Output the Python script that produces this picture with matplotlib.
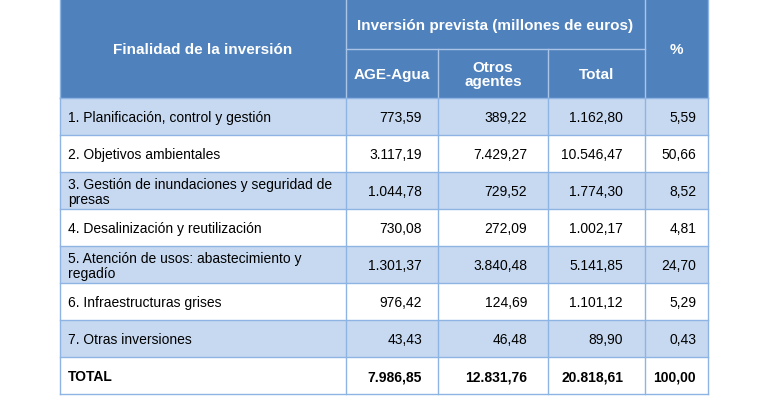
import matplotlib.pyplot as plt
from matplotlib.patches import Rectangle

plt.rcParams['font.family'] = ['Liberation Sans', 'DejaVu Sans']

# data
finalidad = [
    "1. Planificación, control y gestión",
    "2. Objetivos ambientales",
    "3. Gestión de inundaciones y seguridad de\npresas",
    "4. Desalinización y reutilización",
    "5. Atención de usos: abastecimiento y\nregadío",
    "6. Infraestructuras grises",
    "7. Otras inversiones",
]
age_agua = ["773,59", "3.117,19", "1.044,78", "730,08", "1.301,37", "976,42", "43,43"]
otros = ["389,22", "7.429,27", "729,52", "272,09", "3.840,48", "124,69", "46,48"]
total = ["1.162,80", "10.546,47", "1.774,30", "1.002,17", "5.141,85", "1.101,12", "89,90"]
pct = ["5,59", "50,66", "8,52", "4,81", "24,70", "5,29", "0,43"]
total_row = ["TOTAL", "7.986,85", "12.831,76", "20.818,61", "100,00"]

header_main = "Finalidad de la inversión"
header_group = "Inversión prevista (millones de euros)"
header_sub = ["AGE-Agua", "Otros\nagentes", "Total"]
header_pct = "%"

# layout (pixels)
W, H = 770, 400
col_x = [60, 346, 438, 548, 645, 708]
right_pad = [16, 21, 22, 12]
head_top, head_mid, head_bot = 0, 49, 98
row_h = 37
dy = 1.5  # small nudge so text sits like in the source

HEAD_BLUE = "#4F81BD"
LIGHT = "#C6D9F1"
LINE = "#8EB4E3"

fig = plt.figure(figsize=(W / 100, H / 100), dpi=100)
ax = fig.add_axes([0, 0, 1, 1])
ax.set_xlim(0, W)
ax.set_ylim(H, 0)
ax.axis('off')

fs = 10
fs_head = 11

# header background
ax.add_patch(Rectangle((col_x[0], head_top), col_x[-1] - col_x[0], head_bot - head_top,
                       facecolor=HEAD_BLUE, edgecolor='none'))
ax.text((col_x[0] + col_x[1]) / 2, (head_top + head_bot) / 2 + dy, header_main,
        color='white', fontsize=fs_head, fontweight='bold', ha='center', va='center')
ax.text((col_x[1] + col_x[4]) / 2, (head_top + head_mid) / 2 + dy, header_group,
        color='white', fontsize=fs_head, fontweight='bold', ha='center', va='center')
for i, lab in enumerate(header_sub):
    ax.text((col_x[i + 1] + col_x[i + 2]) / 2, (head_mid + head_bot) / 2 + dy, lab,
            color='white', fontsize=fs_head, fontweight='bold', ha='center', va='center',
            linespacing=1.0)
ax.text((col_x[4] + col_x[5]) / 2, (head_top + head_bot) / 2 + dy, header_pct,
        color='white', fontsize=fs_head, fontweight='bold', ha='center', va='center')

# header lines
hl = dict(color="#A9C4E6", lw=1)
ax.plot([col_x[1], col_x[4]], [head_mid, head_mid], **hl)
ax.plot([col_x[1], col_x[1]], [head_top, head_bot], **hl)
ax.plot([col_x[4], col_x[4]], [head_top, head_bot], **hl)
for x in col_x[2:4]:
    ax.plot([x, x], [head_mid, head_bot], **hl)

# body rows
rows = list(zip(finalidad, age_agua, otros, total, pct)) + [tuple(total_row)]
for r, vals in enumerate(rows):
    y0 = head_bot + r * row_h
    yc = y0 + row_h / 2 + dy
    face = LIGHT if r % 2 == 0 and r < len(finalidad) else 'white'
    ax.add_patch(Rectangle((col_x[0], y0), col_x[-1] - col_x[0], row_h,
                           facecolor=face, edgecolor='none'))
    bold = 'bold' if r == len(finalidad) else 'normal'
    ax.text(col_x[0] + 8, yc + (0.5 if '\n' in vals[0] else 0), vals[0], fontsize=fs,
            fontweight=bold, ha='left', va='center', linespacing=1.1)
    for c in range(4):
        ax.text(col_x[c + 2] - right_pad[c], yc, vals[c + 1], fontsize=fs,
                fontweight=bold, ha='right', va='center')

bottom = head_bot + len(rows) * row_h
for r in range(len(rows) + 1):
    y = head_bot + r * row_h
    ax.plot([col_x[0], col_x[-1]], [y, y], color=LINE, lw=1)
for x in col_x:
    ax.plot([x, x], [head_bot, bottom], color=LINE, lw=1)
ax.plot([col_x[0], col_x[0]], [head_top, head_bot], color=LINE, lw=1)
ax.plot([col_x[-1], col_x[-1]], [head_top, head_bot], color=LINE, lw=1)

fig.savefig("out.png", dpi=100)
